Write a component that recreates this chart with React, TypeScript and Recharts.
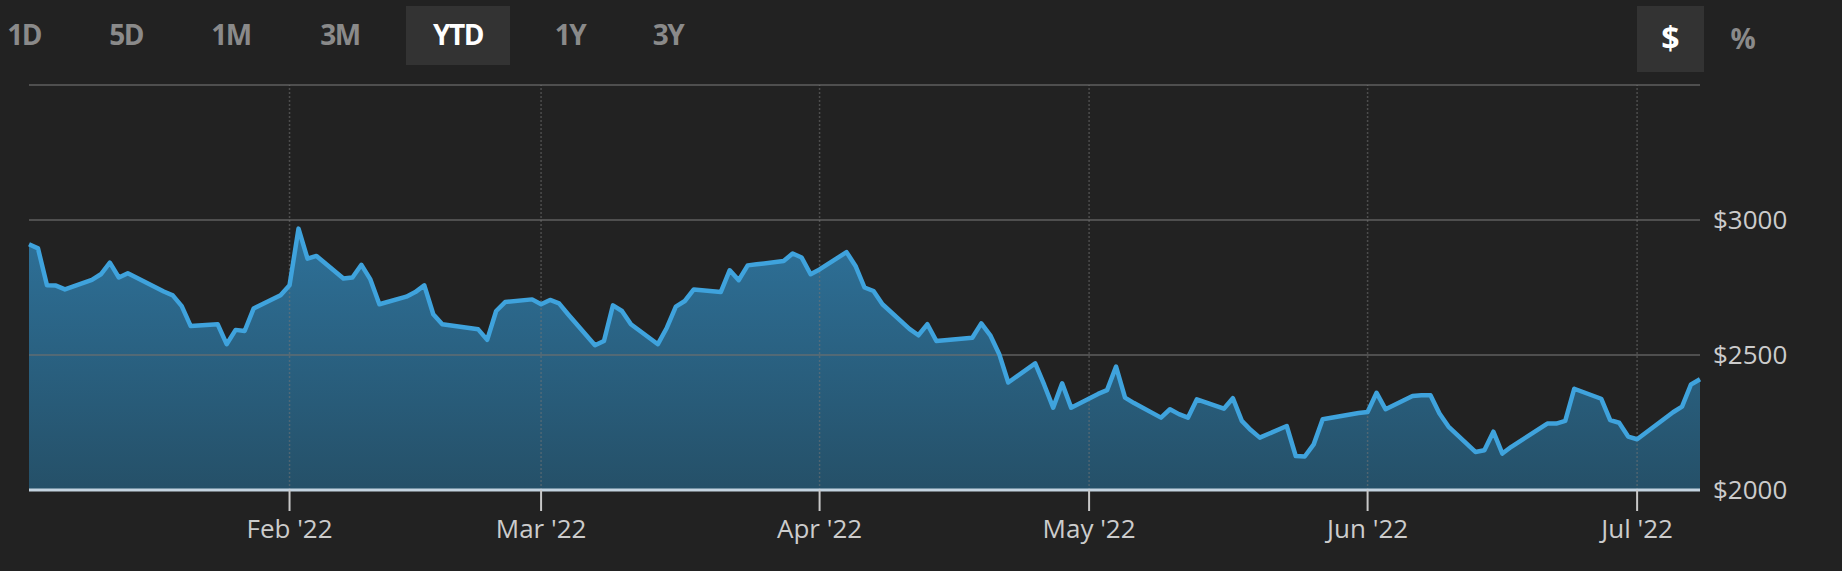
import {
  Area,
  ComposedChart,
  Line,
  ReferenceLine,
  XAxis,
  YAxis
} from 'recharts';

const dates = [
  '01-03', '01-04', '01-05', '01-06', '01-07', '01-10', '01-11', '01-12', '01-13', '01-14',
  '01-18', '01-19', '01-20', '01-21', '01-24', '01-25', '01-26', '01-27', '01-28', '01-31',
  '02-01', '02-02', '02-03', '02-04', '02-07', '02-08', '02-09', '02-10', '02-11', '02-14',
  '02-15', '02-16', '02-17', '02-18', '02-22', '02-23', '02-24', '02-25', '02-28',
  '03-01', '03-02', '03-03', '03-04', '03-07', '03-08', '03-09', '03-10', '03-11', '03-14',
  '03-15', '03-16', '03-17', '03-18', '03-21', '03-22', '03-23', '03-24', '03-25', '03-28',
  '03-29', '03-30', '03-31',
  '04-01', '04-04', '04-05', '04-06', '04-07', '04-08', '04-11', '04-12', '04-13', '04-14',
  '04-18', '04-19', '04-20', '04-21', '04-22', '04-25', '04-26', '04-27', '04-28', '04-29',
  '05-02', '05-03', '05-04', '05-05', '05-06', '05-09', '05-10', '05-11', '05-12', '05-13',
  '05-16', '05-17', '05-18', '05-19', '05-20', '05-23', '05-24', '05-25', '05-26', '05-27',
  '05-31',
  '06-01', '06-02', '06-03', '06-06', '06-07', '06-08', '06-09', '06-10', '06-13', '06-14',
  '06-15', '06-16', '06-17', '06-21', '06-22', '06-23', '06-24', '06-27', '06-28', '06-29',
  '06-30',
  '07-01', '07-05', '07-06', '07-07', '07-08'
];

const prices = [
  2910, 2895, 2758, 2757, 2743, 2778, 2799, 2842, 2787, 2803,
  2735, 2721, 2681, 2607, 2614, 2540, 2593, 2589, 2672, 2721,
  2758, 2968, 2857, 2867, 2783, 2787, 2834, 2780, 2688, 2716,
  2733, 2758, 2651, 2614, 2595, 2556, 2663, 2696, 2706,
  2688, 2704, 2691, 2651, 2536, 2552, 2684, 2663, 2614, 2540,
  2601, 2679, 2700, 2743, 2733, 2814, 2777, 2832, 2836, 2848,
  2876, 2861, 2799,
  2817, 2881, 2830, 2750, 2737, 2688, 2597, 2573, 2614, 2552,
  2564, 2617, 2573, 2503, 2398, 2469, 2390, 2305, 2395, 2305,
  2356, 2370, 2457, 2342, 2322, 2268, 2299, 2281, 2268, 2336,
  2301, 2340, 2256, 2222, 2194, 2237, 2126, 2124, 2169, 2262,
  2285,
  2289, 2360, 2299, 2348, 2351, 2351, 2283, 2235, 2141, 2147,
  2216, 2135, 2160, 2246, 2246, 2256, 2375, 2338, 2259, 2249,
  2198,
  2188, 2288, 2309, 2391, 2410
];

const monthTicks = ['02-01', '03-01', '04-01', '05-01', '06-01', '07-01'];
const monthLabels = ["Feb '22", "Mar '22", "Apr '22", "May '22", "Jun '22", "Jul '22"];
const priceTicks = [2000, 2500, 3000];
const priceGrid = [2500, 3000, 3500];
const ranges = ['1D', '5D', '1M', '3M', 'YTD', '1Y', '3Y'];
const rangeCenters = [24, 126, 231, 340, 458, 570, 668];

const toTime = (d: string) => Date.parse(`2022-${d}T00:00:00Z`);

const data = dates.map((d, i) => ({ t: toTime(d), price: prices[i] }));
const tickTimes = monthTicks.map(toTime);

const font = '"Open Sans", sans-serif';

export default function App() {
  return (
    <div
      style={{
        position: 'absolute',
        left: 0,
        top: 0,
        width: 1842,
        height: 571,
        background: '#222222',
        fontFamily: font,
        overflow: 'hidden'
      }}
    >
      {ranges.map((r, i) => (
        <div
          key={r}
          style={{
            position: 'absolute',
            top: 6,
            left: rangeCenters[i],
            transform: 'translateX(-50%)',
            height: 59,
            width: r === 'YTD' ? 104 : 'auto',
            background: r === 'YTD' ? '#333333' : 'transparent',
            color: r === 'YTD' ? '#ffffff' : '#8a8a8a',
            fontWeight: 700,
            fontSize: 28,
            lineHeight: '57px',
            textAlign: 'center',
            letterSpacing: -1.5
          }}
        >
          {r}
        </div>
      ))}
      <div
        style={{
          position: 'absolute',
          top: 6,
          left: 1637,
          width: 67,
          height: 66,
          background: '#333333',
          color: '#ffffff',
          fontWeight: 700,
          fontSize: 32,
          lineHeight: '64px',
          textAlign: 'center'
        }}
      >
        $
      </div>
      <div
        style={{
          position: 'absolute',
          top: 6,
          left: 1722,
          width: 42,
          height: 66,
          color: '#8a8a8a',
          fontWeight: 700,
          fontSize: 28,
          lineHeight: '64px',
          textAlign: 'center'
        }}
      >
        %
      </div>

      <div style={{ position: 'absolute', left: 0, top: 0 }}>
        <ComposedChart width={1842} height={571} data={data} margin={{ top: 85, right: 0, left: 29, bottom: 0 }}>
          <defs>
            <linearGradient id="fillPrice" x1="0" y1="0" x2="0" y2="1">
              <stop offset="0%" stopColor="#2e7199" />
              <stop offset="100%" stopColor="#255068" />
            </linearGradient>
          </defs>
          <XAxis
            dataKey="t"
            type="number"
            domain={[data[0].t, data[data.length - 1].t]}
            ticks={tickTimes}
            tickFormatter={(v: number) => monthLabels[tickTimes.indexOf(v)] ?? ''}
            height={81}
            axisLine={{ stroke: '#c3d3e0', strokeWidth: 3 }}
            tickLine={{ stroke: '#c8c8c8', strokeWidth: 2 }}
            tickSize={21}
            tickMargin={9}
            tick={{ fill: '#cccccc', fontSize: 26, fontFamily: font }}
          />
          <YAxis
            orientation="right"
            domain={[2000, 3500]}
            ticks={priceTicks}
            tickFormatter={(v: number) => `$${v}`}
            width={142}
            axisLine={false}
            tickLine={false}
            tickSize={0}
            tickMargin={13}
            tick={{ fill: '#cccccc', fontSize: 26, fontFamily: font }}
          />
          <Area
            dataKey="price"
            type="linear"
            baseValue={2000}
            stroke="none"
            fill="url(#fillPrice)"
            fillOpacity={1}
            isAnimationActive={false}
          />
          {priceGrid.map((p) => (
            <ReferenceLine key={p} y={p} stroke="rgba(110,110,110,0.6)" strokeWidth={2} />
          ))}
          {tickTimes.map((t) => (
            <ReferenceLine key={t} x={t} stroke="rgba(120,120,120,0.5)" strokeWidth={1.5} strokeDasharray="2 2" />
          ))}
          <Line
            dataKey="price"
            type="linear"
            stroke="#3fa3dd"
            strokeWidth={4.5}
            strokeLinejoin="round"
            dot={false}
            activeDot={false}
            isAnimationActive={false}
          />
        </ComposedChart>
      </div>
    </div>
  );
}
